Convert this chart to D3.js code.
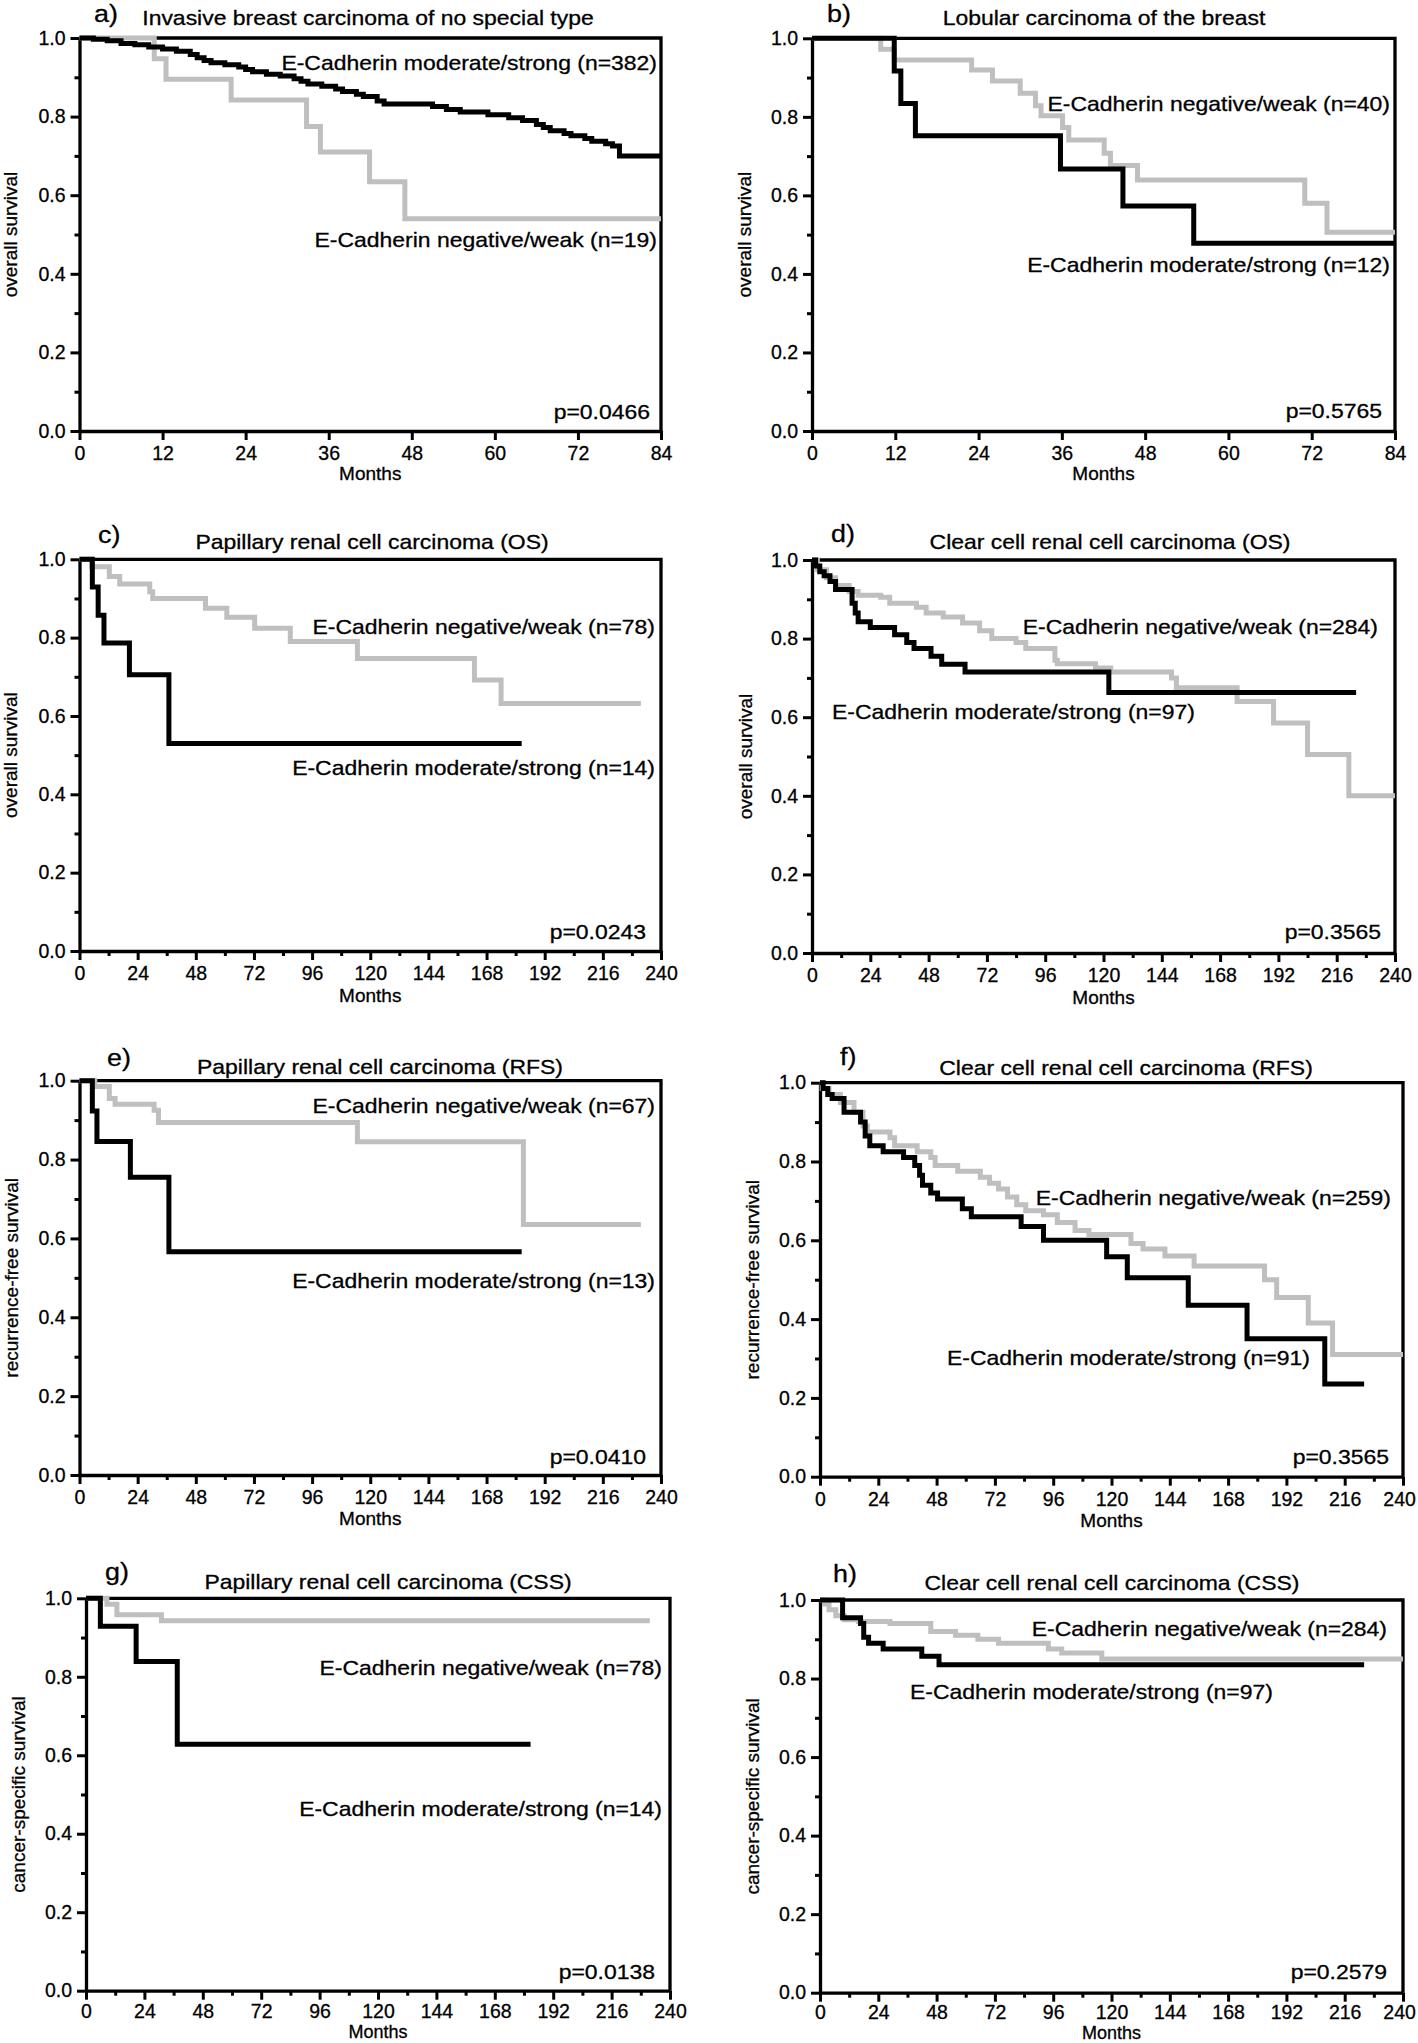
<!DOCTYPE html>
<html><head><meta charset="utf-8">
<script src="https://cdn.jsdelivr.net/npm/d3@7"></script>
<style>body{margin:0;background:#fff}svg{display:block}</style>
</head><body>
<svg id="c" width="1418" height="2043"></svg>
<script>
// ---------- data ----------
const panelLetters = ["a)","b)","c)","d)","e)","f)","g)","h)"];
const titles = [
  "Invasive breast carcinoma of no special type",
  "Lobular carcinoma of the breast",
  "Papillary renal cell carcinoma (OS)",
  "Clear cell renal cell carcinoma (OS)",
  "Papillary renal cell carcinoma (RFS)",
  "Clear cell renal cell carcinoma (RFS)",
  "Papillary renal cell carcinoma (CSS)",
  "Clear cell renal cell carcinoma (CSS)"];
const yLabels = ["overall survival","overall survival","overall survival","overall survival",
  "recurrence-free survival","recurrence-free survival","cancer-specific survival","cancer-specific survival"];
const xLabel = "Months";
const weakLabels = ["E-Cadherin negative/weak (n=19)","E-Cadherin negative/weak (n=40)","E-Cadherin negative/weak (n=78)",
  "E-Cadherin negative/weak (n=284)","E-Cadherin negative/weak (n=67)","E-Cadherin negative/weak (n=259)",
  "E-Cadherin negative/weak (n=78)","E-Cadherin negative/weak (n=284)"];
const strongLabels = ["E-Cadherin moderate/strong (n=382)","E-Cadherin moderate/strong (n=12)","E-Cadherin moderate/strong (n=14)",
  "E-Cadherin moderate/strong (n=97)","E-Cadherin moderate/strong (n=13)","E-Cadherin moderate/strong (n=91)",
  "E-Cadherin moderate/strong (n=14)","E-Cadherin moderate/strong (n=97)"];
const pValues = ["p=0.0466","p=0.5765","p=0.0243","p=0.3565","p=0.0410","p=0.3565","p=0.0138","p=0.2579"];
const xMaxes = [84,84,240,240,240,240,240,240];
const xTicksShort = [0,12,24,36,48,60,72,84];
const xTicksLong = [0,24,48,72,96,120,144,168,192,216,240];
const xMinorLong = [12,36,60,84,108,132,156,180,204,228];
const yTicks = [0,0.2,0.4,0.6,0.8,1.0];
const yMinor = [0.1,0.3,0.5,0.7,0.9];

// Kaplan-Meier step points [months, survival]
const aStrong = [[0,1],[2,0.997],[4,0.993],[6,0.986],[8,0.983],[10,0.977],[12,0.972],[14,0.966],[16,0.958],[17,0.95],[18,0.943],[19,0.937],[21,0.932],[23,0.926],[24,0.92],[25,0.914],[27,0.908],[29,0.903],[31,0.896],[32,0.89],[33,0.883],[35,0.877],[37,0.87],[38,0.864],[40,0.857],[41,0.851],[43,0.84],[44,0.832],[51,0.826],[53,0.818],[55,0.812],[59,0.805],[62,0.797],[64,0.79],[66,0.78],[67,0.772],[68,0.764],[70,0.757],[71,0.751],[73,0.744],[74,0.737],[76,0.731],[77,0.725],[78,0.7],[84,0.7]];
const aWeak = [[0,1],[10.8,0.947],[12.5,0.895],[21.9,0.842],[32.8,0.775],[34.8,0.71],[41.9,0.634],[47,0.54],[84,0.54]];
const bStrong = [[0,1],[11.85,0.917],[12.8,0.834],[14.9,0.752],[35.8,0.667],[44.8,0.573],[55,0.478],[84,0.478]];
const bWeak = [[0,1],[9.9,0.972],[11.85,0.945],[23,0.919],[26,0.891],[30,0.86],[32.2,0.828],[33,0.803],[36.1,0.773],[37,0.741],[42.1,0.707],[43,0.676],[46.9,0.639],[71,0.58],[74.2,0.506],[84,0.506]];
const cStrong = [[0,1],[5.3,0.929],[7.7,0.857],[10.1,0.786],[20.6,0.705],[36.9,0.53],[182.5,0.53]];
const cWeak = [[0,1],[5,0.981],[12.3,0.956],[16.6,0.937],[29,0.917],[30.2,0.9],[52,0.875],[60.8,0.852],[72.3,0.824],[87,0.79],[114.7,0.747],[163,0.692],[174,0.632],[231.7,0.632]];
const dStrong = [[0,1],[1.5,0.985],[3.2,0.97],[5,0.96],[7.4,0.945],[9.7,0.925],[16.5,0.89],[17.8,0.865],[19,0.843],[24,0.828],[34,0.81],[39,0.79],[42,0.775],[49,0.755],[53.4,0.735],[63,0.715],[122.2,0.663],[224,0.663]];
const dWeak = [[0,1],[2.2,0.975],[6,0.955],[9.7,0.935],[15.3,0.92],[19,0.91],[28.3,0.905],[32,0.89],[43,0.88],[47,0.865],[54,0.855],[62,0.84],[69,0.82],[74,0.8],[84,0.79],[88,0.775],[100,0.745],[101,0.736],[116.7,0.725],[123,0.715],[148,0.7],[150,0.675],[175,0.64],[190,0.585],[204,0.505],[221,0.4],[240,0.4]];
const eStrong = [[0,1],[5.3,0.923],[7.2,0.846],[21,0.755],[36.9,0.566],[182.5,0.566]];
const eWeak = [[0,1],[6.3,0.985],[12.3,0.955],[14.7,0.94],[30.8,0.925],[32.6,0.894],[114.7,0.845],[183.2,0.635],[231.7,0.635]];
const fStrong = [[0,1],[1.3,0.985],[3.2,0.97],[5,0.96],[9.9,0.925],[16.7,0.9],[18.6,0.865],[20.5,0.84],[26,0.825],[34.4,0.81],[39,0.79],[41,0.765],[42.2,0.74],[45.6,0.72],[48.4,0.705],[58.6,0.68],[62.3,0.66],[82.8,0.635],[92,0.6],[118,0.558],[126.5,0.505],[151.6,0.435],[175.8,0.35],[207.8,0.235],[224,0.235]];
const fWeak = [[0,1],[0.9,0.985],[3.7,0.97],[8.4,0.95],[14,0.925],[17.7,0.89],[19.5,0.875],[28.8,0.86],[30.7,0.84],[40,0.825],[45.6,0.81],[47.4,0.79],[56.7,0.775],[66,0.76],[69.8,0.745],[73.5,0.73],[77.2,0.71],[81,0.69],[84.7,0.675],[92,0.665],[97.7,0.645],[105,0.625],[110.7,0.615],[128,0.592],[133,0.578],[142,0.56],[154,0.535],[183,0.5],[188,0.455],[201,0.39],[211,0.31],[240,0.31]];
const gStrong = [[0,1],[5.9,0.929],[20.6,0.839],[37.5,0.628],[182.7,0.628]];
const gWeak = [[0,1],[8.6,0.985],[12.7,0.958],[31,0.943],[231.7,0.943]];
const hStrong = [[0,1],[9.3,0.955],[16.7,0.94],[18,0.905],[20,0.89],[26,0.875],[41.9,0.857],[49,0.835],[224,0.835]];
const hWeak = [[0,1],[1.9,0.99],[3.7,0.975],[6.5,0.96],[10,0.95],[15.8,0.945],[28.8,0.94],[45.6,0.92],[55.8,0.91],[65,0.9],[73.5,0.89],[94,0.875],[99.5,0.865],[116,0.85],[240,0.85]];
const strongSeries = [aStrong,bStrong,cStrong,dStrong,eStrong,fStrong,gStrong,hStrong];
const weakSeries = [aWeak,bWeak,cWeak,dWeak,eWeak,fWeak,gWeak,hWeak];

// ---------- layout (pixel positions) ----------
const layout = [
 {x0:79.5,x1:661,yB:431,yT:38,  letter:[94,14], title:[368,18], ylab:10, xlabY:473, xlabSize:19, pad:6, weak:{x:657,y:240,a:"end"}, strong:{x:657,y:63,a:"end"}, p:[650,412]},
 {x0:812,x1:1395,yB:431,yT:38.3, letter:[827,14], title:[1104,18], ylab:744, xlabY:473, xlabSize:19, pad:6, weak:{x:1390,y:104,a:"end"}, strong:{x:1390,y:265,a:"end"}, p:[1382,411]},
 {x0:79.5,x1:661,yB:951,yT:559.3, letter:[98,535], title:[372,542], ylab:10, xlabY:995, xlabSize:19, pad:6, weak:{x:655,y:627,a:"end"}, strong:{x:655,y:768,a:"end"}, p:[646,932]},
 {x0:812,x1:1395,yB:953,yT:560, letter:[831,534], title:[1110,542], ylab:745, xlabY:997, xlabSize:19, pad:6, weak:{x:1378,y:627,a:"end"}, strong:{x:832,y:712,a:"start"}, p:[1381,932]},
 {x0:79.5,x1:661,yB:1475,yT:1080.7, letter:[107,1058], title:[380,1067], ylab:11, xlabY:1518, xlabSize:19, pad:6, weak:{x:655,y:1106,a:"end"}, strong:{x:655,y:1281,a:"end"}, p:[646,1457]},
 {x0:820,x1:1403,yB:1476.7,yT:1082.7, letter:[840,1057], title:[1126,1068], ylab:752, xlabY:1520, xlabSize:19, pad:6, weak:{x:1391,y:1198,a:"end"}, strong:{x:947,y:1358,a:"start"}, p:[1389,1457]},
 {x0:86,x1:670,yB:1990.7,yT:1598.3, letter:[105,1572], title:[388,1582], ylab:18, xlabY:2032, xlabSize:18, pad:4, weak:{x:662,y:1668,a:"end"}, strong:{x:662,y:1809,a:"end"}, p:[655,1972]},
 {x0:820,x1:1403,yB:1992.7,yT:1600, letter:[833,1574], title:[1112,1583], ylab:752, xlabY:2032.5, xlabSize:18, pad:3, weak:{x:1387,y:1629,a:"end"}, strong:{x:910,y:1692,a:"start"}, p:[1387,1972]}
];

const FONT = "'Liberation Sans', Arial, Helvetica, sans-serif";
const GRAY = "#bfbfbf";
const SX = 1.12; // horizontal stretch of in-plot / title text
const svg = d3.select("#c");
svg.append("rect").attr("width",1418).attr("height",2043).attr("fill","#fff");

layout.forEach((L,i) => {
  const x = d3.scaleLinear().domain([0,xMaxes[i]]).range([L.x0,L.x1]);
  const y = d3.scaleLinear().domain([0,1]).range([L.yB,L.yT]);
  const g = svg.append("g");
  const long = xMaxes[i] === 240;

  // frame (top and right)
  g.append("path").attr("d",`M${L.x0},${L.yT}H${L.x1}V${L.yB}`)
    .attr("fill","none").attr("stroke","#000").attr("stroke-width",3.3);

  // minor ticks
  g.append("g").attr("transform",`translate(${L.x0},0)`)
    .call(d3.axisLeft(y).tickValues(yMinor).tickSize(5).tickSizeOuter(0).tickFormat(""))
    .call(s=>s.select(".domain").remove())
    .call(s=>s.selectAll("line").attr("stroke-width",3));
  if (long) {
    g.append("g").attr("transform",`translate(0,${L.yB})`)
      .call(d3.axisBottom(x).tickValues(xMinorLong).tickSize(5).tickSizeOuter(0).tickFormat(""))
      .call(s=>s.select(".domain").remove())
      .call(s=>s.selectAll("line").attr("stroke-width",3));
  }
  // major axes
  const ya = g.append("g").attr("transform",`translate(${L.x0},0)`)
    .call(d3.axisLeft(y).tickValues(yTicks).tickSize(9).tickPadding(5).tickSizeOuter(0).tickFormat(d3.format(".1f")));
  const xa = g.append("g").attr("transform",`translate(0,${L.yB})`)
    .call(d3.axisBottom(x).tickValues(long?xTicksLong:xTicksShort).tickSize(9).tickPadding(L.pad).tickSizeOuter(0));
  [ya,xa].forEach(a=>{
    a.select(".domain").attr("stroke-width",3.3);
    a.selectAll(".tick line").attr("stroke-width",3);
    a.selectAll("text").attr("font-family",FONT).attr("font-size",19.5).attr("fill","#000")
      .attr("stroke","#000").attr("stroke-width",0.3);
  });
  // keep the last x tick label inside the page
  xa.selectAll(".tick text").each(function(){
    const bb = this.getBBox(), ctm = this.getCTM();
    const right = ctm.e + bb.x + bb.width;
    if (right > 1416) d3.select(this).attr("x", -(right - 1416));
  });

  // curves
  const line = d3.line().x(d=>x(d[0])).y(d=>y(d[1])).curve(d3.curveStepAfter);
  g.append("path").datum(weakSeries[i]).attr("d",line)
    .attr("fill","none").attr("stroke",GRAY).attr("stroke-width",5);
  g.append("path").datum(strongSeries[i]).attr("d",line)
    .attr("fill","none").attr("stroke","#000").attr("stroke-width",5);

  // texts
  const T = (px,py,str,size,anchor,sx) => g.append("text")
    .attr("transform",`translate(${px},${py}) scale(${sx},1)`).attr("dy","0.35em")
    .attr("font-family",FONT).attr("font-size",size).attr("text-anchor",anchor).attr("fill","#000")
    .attr("stroke","#000").attr("stroke-width",0.3).text(str);
  T(L.letter[0],L.letter[1],panelLetters[i],24,"start",SX);
  T(L.title[0],L.title[1],titles[i],20.5,"middle",SX);
  T(L.weak.x,L.weak.y,weakLabels[i],20.5,L.weak.a,SX);
  T(L.strong.x,L.strong.y,strongLabels[i],20.5,L.strong.a,SX);
  T(L.p[0],L.p[1],pValues[i],20.5,"end",SX);
  T((L.x0+L.x1)/2,L.xlabY,xLabel,L.xlabSize,"middle",1);
  g.append("text").attr("transform",`translate(${L.ylab},${(L.yB+L.yT)/2}) rotate(-90)`)
    .attr("dy","0.35em").attr("font-family",FONT).attr("font-size",19).attr("text-anchor","middle")
    .attr("stroke","#000").attr("stroke-width",0.3).text(yLabels[i]);
});
</script>
</body></html>
